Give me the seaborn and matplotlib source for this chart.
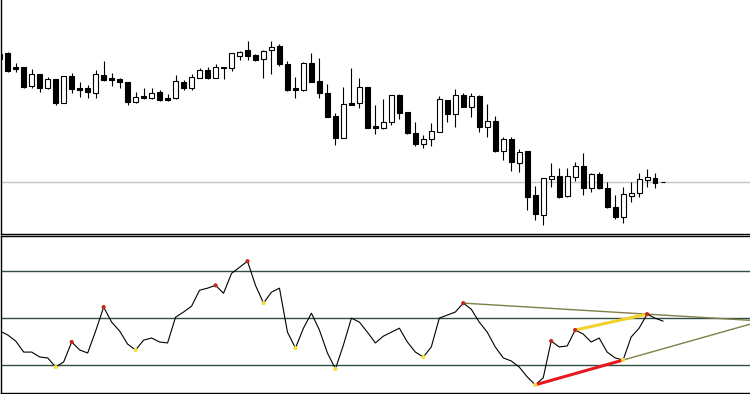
import numpy as np
import pandas as pd
import matplotlib
matplotlib.use("Agg")
import matplotlib.pyplot as plt
import seaborn as sns

# ── Data ───────────────────────────────────────────────────────────────────────
open_ = [196, 197, 183, 183, 164, 176, 162, 171, 147, 174,
         162, 162, 157, 175, 172, 171, 168, 148, 154, 152,
         158, 152, 152, 168, 162, 172, 180, 172, 183, 182,
         194, 200, 195, 191, 200, 204, 186, 162, 160, 187,
         169, 157, 134, 112, 147, 147, 163, 124, 122, 128,
         155, 138, 117, 106, 111, 118, 150, 136, 155, 143,
         154, 123, 129, 99, 111, 87, 99, 55, 35, 71,
         74, 54, 73, 84, 62, 76, 62, 43, 33, 54,
         57, 70, 72, 68]
high = [197, 198, 187, 183, 181, 176, 173, 171, 174, 177,
        168, 165, 180, 189, 177, 172, 168, 158, 162, 162,
        160, 156, 175, 170, 176, 182, 183, 186, 183, 197,
        199, 209, 196, 200, 209, 206, 189, 173, 188, 197,
        192, 166, 137, 163, 182, 172, 163, 145, 151, 155,
        156, 138, 128, 115, 127, 154, 150, 161, 157, 157,
        155, 146, 134, 113, 113, 101, 99, 64, 72, 87,
        82, 82, 88, 97, 77, 78, 68, 55, 63, 68,
        77, 81, 77, 68]
low = [191, 178, 178, 162, 162, 158, 161, 145, 147, 157,
       153, 152, 152, 169, 164, 162, 145, 147, 151, 151,
       149, 149, 151, 160, 160, 172, 171, 172, 171, 179,
       190, 190, 189, 172, 176, 184, 159, 152, 159, 168,
       152, 133, 105, 112, 145, 142, 122, 116, 121, 125,
       131, 116, 104, 102, 104, 118, 128, 123, 143, 133,
       118, 113, 98, 90, 79, 78, 40, 30, 25, 63,
       52, 53, 69, 55, 58, 61, 42, 31, 27, 48,
       53, 63, 62, 68]
close = [191, 179, 181, 163, 176, 162, 171, 147, 174, 161,
         160, 158, 176, 170, 170, 168, 148, 153, 152, 157,
         150, 150, 169, 162, 173, 180, 172, 183, 182, 197,
         198, 194, 190, 199, 203, 186, 160, 160, 187, 168,
         157, 133, 112, 146, 145, 163, 122, 122, 128, 155,
         137, 117, 106, 111, 119, 151, 136, 155, 143, 154,
         123, 129, 99, 111, 88, 98, 53, 36, 72, 74,
         53, 74, 84, 62, 76, 62, 43, 33, 56, 57,
         71, 73, 67, 68]

osc = [44.5, 42.8, 40.2, 35.5, 35.5, 33.4, 33.0, 29.1, 31.3, 39.8,
       36.4, 35.1, 44.5, 54.7, 48.3, 44.5, 38.9, 36.4, 40.6, 41.5,
       39.8, 39.4, 50.4, 52.6, 55.1, 61.9, 62.8, 64.0, 60.6, 69.1,
       71.7, 74.3, 64.0, 56.4, 61.1, 62.8, 44.0, 37.2, 45.7, 52.1,
       44.9, 35.1, 28.3, 38.5, 50.0, 48.3, 44.0, 39.4, 42.3, 44.0,
       45.7, 39.8, 35.5, 33.4, 37.7, 50.0, 51.3, 52.6, 56.4, 53.8,
       48.3, 44.0, 37.7, 33.0, 31.7, 29.1, 24.9, 21.5, 24.5, 40.2,
       37.7, 38.1, 44.9, 43.2, 39.8, 41.5, 35.5, 33.0, 32.1, 41.9,
       45.7, 51.7, 50.0, 48.7]

levels = [30, 50, 70]
peaks = [9, 13, 27, 31, 58, 69, 72, 81]
troughs = [7, 17, 33, 37, 42, 53, 67, 78]

# divergence lines: (from bar, to bar)
upper_trend = (58, 81)
yellow_seg = (72, 81)
red_seg = (67, 78)

df = pd.DataFrame({"open": open_, "high": high, "low": low,
                   "close": close, "osc": osc})
df["bar"] = np.arange(len(df))

# ── Figure ─────────────────────────────────────────────────────────────────────
sns.set_style("white")
fig = plt.figure(figsize=(7.5, 3.94), dpi=100)
ax1 = fig.add_axes([0.001, 0.405, 0.999, 0.595])
ax2 = fig.add_axes([0.001, 0.003, 0.999, 0.397])

x_right = 93.875
for ax in (ax1, ax2):
    ax.set_xlim(0.125, x_right)
    ax.set_xticks([])
    ax.set_yticks([])
    ax.set_facecolor("white")
    for s in ax.spines.values():
        s.set_color("black")
        s.set_linewidth(1.0)
    ax.spines["right"].set_visible(False)
ax1.spines["top"].set_visible(False)

# ── Candles ────────────────────────────────────────────────────────────────────
ax1.axhline(close[-1], color="#c4c4c4", lw=1.0, zorder=1)
ax1.vlines(df["bar"], df["low"], df["high"], color="black", lw=0.8, zorder=2)
up = df["close"] >= df["open"]
body_lo = df[["open", "close"]].min(axis=1)
body_h = (df["close"] - df["open"]).abs()
ax1.bar(df["bar"][up], body_h[up], bottom=body_lo[up], width=0.6,
        color="white", edgecolor="black", lw=0.8, zorder=3)
ax1.bar(df["bar"][~up], body_h[~up], bottom=body_lo[~up], width=0.6,
        color="black", edgecolor="black", lw=0.8, zorder=3)
ax1.set_ylim(16, 250)

# ── Oscillator ─────────────────────────────────────────────────────────────────
for lv in levels:
    ax2.axhline(lv, color="#2f4f44", lw=1.0, zorder=1)

olive = "#7f7f48"


def extend(seg):
    a, b = seg
    ya = osc[a] if seg != red_seg else osc[a]
    slope = (osc[b] - osc[a]) / (b - a)
    return [a, x_right], [osc[a], osc[a] + slope * (x_right - a)]


ux, uy = extend(upper_trend)
ax2.plot(ux, uy, color=olive, lw=1.0, zorder=2)
lx, ly = extend(red_seg)
ax2.plot(lx, ly, color=olive, lw=1.0, zorder=2)

sns.lineplot(data=df, x="bar", y="osc", ax=ax2, color="black", lw=0.8,
             zorder=3, legend=False)

a, b = yellow_seg
ax2.plot([a, b], [osc[a], osc[b]], color="#f2d22a", lw=2.2, zorder=4,
         solid_capstyle="butt")
a, b = red_seg
ax2.plot([a, b], [osc[a], osc[b]], color="#e8191e", lw=2.2, zorder=4,
         solid_capstyle="butt")

sns.scatterplot(x=peaks, y=[osc[i] for i in peaks], ax=ax2, color="#c0281e",
                s=9, edgecolor="none", zorder=5)
sns.scatterplot(x=troughs, y=[osc[i] for i in troughs], ax=ax2,
                color="#f7dc3c", s=9, edgecolor="none", zorder=5)
ax2.set_xlabel("")
ax2.set_ylabel("")
ax2.set_ylim(18.1, 84.9)

fig.savefig("out.png", dpi=100)
